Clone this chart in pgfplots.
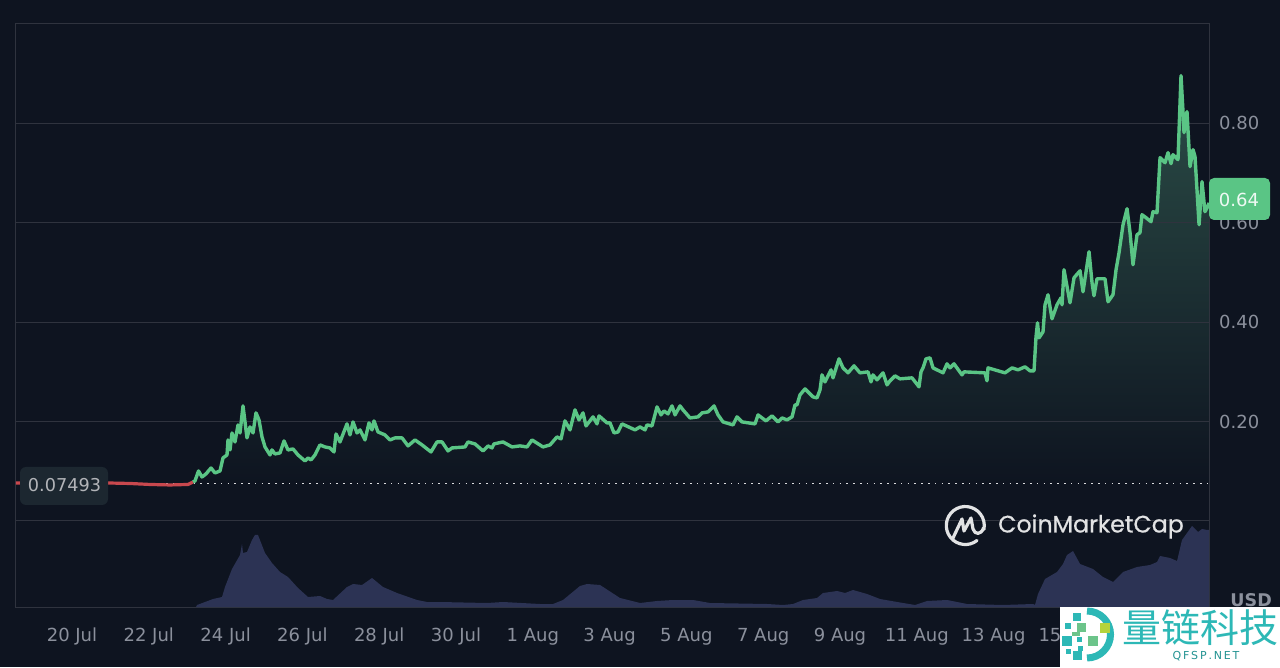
\documentclass[border=0pt]{standalone}
\usepackage{pgfplots}
\usepackage{pgfplotstable}
\usepackage{fontspec}
\pgfplotsset{compat=1.18}
\setmainfont{DejaVu Sans}
\newfontfamily\pop{Poppins}[FakeBold=0.6]
\newfontfamily\cjk{Noto Sans CJK SC}
\definecolor{bg}{HTML}{0E1420}
\definecolor{gridc}{HTML}{2F333E}
\definecolor{tickc}{HTML}{8B909C}
\definecolor{up}{HTML}{5AC585}
\definecolor{down}{HTML}{C8484E}
\definecolor{vol}{HTML}{2C3354}
\definecolor{areatop}{HTML}{2B4D47}
\definecolor{badge}{HTML}{1C2730}
\definecolor{wmt}{HTML}{2DB8B6}
\definecolor{wmg}{HTML}{6CC48A}
\definecolor{wml}{HTML}{B5D33C}
\pgfplotstableread{
px v
16 .0765
108 .0765
130 .0755
150 .0735
170 .0725
188 .0735
193 .0785
}\redprice
\pgfplotstableread{
px v
193 .0785
195 .0806
198.5 .1007
202 .0886
206 .0947
211 .1067
215 .0967
220 .1007
223 .1269
227 .1329
228 .1631
230 .1430
232 .1772
235 .1591
238 .1933
240 .1772
243 .2316
247 .1672
250 .1893
253 .1772
256 .2175
259 .2034
262 .1692
265 .1490
270 .1329
272 .1430
275 .1349
280 .1370
284 .1611
288 .1430
293 .1450
298 .1329
305 .1208
308 .1269
311 .1229
315 .1329
320 .1531
325 .1490
330 .1470
334 .1390
336 .1752
340 .1591
347 .1954
350 .1732
353 .1994
357 .1772
360 .1833
365 .1631
369 .1974
372 .1833
374 .2014
378 .1792
385 .1732
390 .1631
395 .1672
402 .1672
408 .1511
415 .1631
422 .1531
431 .1390
437 .1591
442 .1591
448 .1410
452 .1470
465 .1490
468 .1591
475 .1551
483 .1410
488 .1511
492 .1470
494 .1551
503 .1591
512 .1490
520 .1511
527 .1490
532 .1631
543 .1490
550 .1531
557 .1692
561 .1651
565 .2014
570 .1833
575 .2236
579 .2034
583 .2175
586 .1913
593 .2095
597 .1954
599 .2115
607 .1974
610 .1974
614 .1772
618 .1792
622 .1954
635 .1833
640 .1893
645 .1833
647 .1933
652 .1913
657 .2296
661 .2135
664 .2215
668 .2155
672 .2316
675 .2135
680 .2316
683 .2236
690 .2074
698 .2095
702 .2175
708 .2195
714 .2316
718 .2135
723 .1994
733 .1933
737 .2095
742 .1994
755 .1954
758 .2135
762 .2074
766 .2014
772 .2115
778 .1994
782 .2074
787 .2034
792 .2095
795 .2336
797 .2336
800 .2538
805 .2658
813 .2497
817 .2477
820 .2638
822 .2940
825 .2799
831 .3041
833 .2880
839 .3263
843 .3081
848 .2981
854 .3122
860 .2981
868 .3001
871 .2799
873 .2940
877 .2840
883 .2981
887 .2739
890 .2820
895 .2920
900 .2860
912 .2880
919 .2699
921 .3001
923 .3081
926 .3263
930 .3283
933 .3081
943 .2981
947 .3162
950 .3081
954 .3162
962 .2940
964 .3001
985 .2981
987 .2820
988 .3081
1005 .2981
1012 .3081
1018 .3041
1025 .3102
1030 .3021
1034 .3021
1036 .3706
1037.5 .3988
1039 .3686
1043 .3806
1045 .4350
1048 .4552
1052 .4068
1057 .4350
1061 .4491
1062 .4350
1064 .5055
1070 .4391
1074 .4894
1080 .5035
1083 .4612
1086 .5015
1089 .5418
1092 .4793
1094 .4532
1097 .4874
1105 .4874
1108 .4411
1113 .4552
1116 .5055
1119 .5398
1123 .5961
1127 .6284
1130 .5800
1133 .5156
1137 .5760
1140 .5800
1142 .6163
1146 .6102
1151 .6022
1153 .6223
1157 .6203
1160 .7311
1165 .7210
1168 .7412
1171 .7190
1173 .7371
1178 .7271
1181 .8962
1183 .8237
1184 .7814
1187 .8237
1190 .7130
1193 .7472
1195 .7331
1199 .5961
1202 .6827
1205 .6223
1207 .6300
1209 .6400
}\greenprice
\pgfplotstableread{
px h
196 0
197 2
205 5
213 8
222 10
225 20
232 38
240 52
242 63
243 54
247 55
252 67
255 72
258 72
265 54
272 44
280 35
288 30
298 19
308 10
320 11
327 8
333 7
347 20
353 23
362 22
372 29
383 20
397 14
417 7
427 5
440 5
487 4
503 5
540 3
553 3
563 7
580 21
587 23
600 22
620 9
640 4
657 6
673 7
693 7
710 4
767 3
783 2
793 3
803 7
817 9
823 14
837 16
845 14
853 17
867 13
880 8
903 4
915 2
927 6
947 7
967 3
1003 2
1033 3
1035 2
1038 13
1045 28
1057 35
1063 43
1067 52
1073 56
1080 43
1093 38
1103 30
1113 25
1123 35
1137 40
1150 42
1157 45
1160 51
1170 49
1177 46
1182 67
1192 81
1198 75
1202 78
1207 77
1209 77
}\volumedata
\pgfplotsset{
  common/.style={
    scale only axis, width=1193pt,
    xmin=-1.4583, xmax=29.6094,
    axis line style={gridc, line width=1pt},
    major tick length=0pt,
    tick label style={text=tickc, font=\fontsize{18}{18}\selectfont, inner sep=0pt},
  }
}
\begin{document}
\begin{tikzpicture}[x=1pt,y=1pt]
\path[fill=bg] (0,0) rectangle (1280,667);
% area below the rising line
\begin{axis}[common, anchor=south west, at={(16pt,183.2pt)}, height=459.8pt,
  ymin=.07493, ymax=1, hide axis]
\addplot[draw=none, top color=areatop, bottom color=bg]
  table[x expr=(\thisrow{px}-72)/38.4, y=v] {\greenprice} \closedcycle;
\end{axis}
% price
\begin{axis}[common, anchor=south west, at={(16pt,146pt)}, height=497pt,
  ymin=0, ymax=1, ytick={.2,.4,.6,.8}, xtick=\empty,
  ymajorgrids, grid style={gridc, line width=1pt},
  yticklabel pos=right,
  yticklabel style={anchor=west, xshift=10pt,
    /pgf/number format/fixed, /pgf/number format/fixed zerofill,
    /pgf/number format/precision=2, /pgf/number format/assume math mode=true},
  clip=true]
\addplot[white!85!bg, line width=1.4pt, dash pattern=on 1.5pt off 5.3pt, forget plot]
  coordinates {(1.0417,.07493) (29.6094,.07493)};
\addplot[down, line width=3.2pt, line join=round]
  table[x expr=(\thisrow{px}-72)/38.4, y=v] {\redprice};
\addplot[up, line width=3.4pt, line join=round]
  table[x expr=(\thisrow{px}-72)/38.4, y=v] {\greenprice};
\end{axis}
% volume
\begin{axis}[common, anchor=south west, at={(16pt,60pt)}, height=86pt,
  ymin=0, ymax=86, ytick=\empty,
  xtick={0,2,...,26},
  xticklabels={20 Jul,22 Jul,24 Jul,26 Jul,28 Jul,30 Jul,1 Aug,3 Aug,5 Aug,7 Aug,9 Aug,11 Aug,13 Aug,15 Aug},
  xticklabel style={anchor=north, yshift=-21pt}]
\addplot[draw=none, fill=vol]
  table[x expr=(\thisrow{px}-72)/38.4, y=h] {\volumedata} \closedcycle;
\end{axis}
\begin{scope}[shift={(0pt,667pt)},x=1pt,y=-1pt]
  % start-price label
  \fill[rounded corners=6pt, fill=badge] (20,467) rectangle (108,505);
  \node[text=white!68!bg, font=\fontsize{17.7}{18}\selectfont, inner sep=0] at (64.5,485.5) {0.07493};
  % last-price badge
  \fill[rounded corners=5pt, fill=up] (1209,178) rectangle (1270,220);
  \node[text=white!90!up, font=\fontsize{18}{18}\selectfont, inner sep=0] at (1239,200) {0.64};
  % CoinMarketCap mark
  \draw[white!88!bg, line width=3.2pt, line cap=round] (977,540.5) arc[start angle=52, end angle=372, radius=19];
  \draw[white!88!bg, line width=3.2pt, line cap=round, line join=round]
     (953,538) -- (962,519) -- (964,531) -- (971,518) -- (973,529) .. controls (975,535) and (981,535) .. (983.5,528);
  \node[anchor=west, text=white!88!bg, font=\pop\fontsize{23.7}{26}\selectfont, inner sep=0] at (998,526.5) {CoinMarketCap};
  \node[anchor=east, text=tickc, font=\bfseries\fontsize{17.5}{18}\selectfont, inner sep=0] at (1272,600.5) {USD};
  % watermark
  \fill[white] (1060,607) rectangle (1280,667);
  \draw[wmt, line width=7pt] (1087,611) arc[start angle=-90, end angle=90, radius=23.5];
  \fill[wmt] (1073,613) rectangle +(8,8);
  \fill[wmt] (1065,623) rectangle +(6,6);
  \fill[wmg] (1077,623) rectangle +(9,9);
  \fill[wml] (1100,623) rectangle +(10,10);
  \fill[wmg] (1072,632) rectangle +(8,4);
  \fill[wmt] (1062,636) rectangle +(10,10);
  \fill[wmt] (1077,637) rectangle +(5,5);
  \fill[wmg] (1088,636) rectangle +(10,10);
  \fill[wmt] (1078,646) rectangle +(5,5);
  \fill[wmt] (1066,649) rectangle +(5,5);
  \fill[wmt] (1073,651) rectangle +(9,9);
  \node[text=wmt, font=\cjk\fontsize{39}{40}\selectfont, inner sep=0] at (1200,628) {量链科技};
  \node[text=black!20!wmt, font=\fontsize{11}{12}\selectfont, inner sep=0] at (1206,656) {Q\,F\,S\,P\,.\,N\,E\,T};
\end{scope}
\end{tikzpicture}
\end{document}
